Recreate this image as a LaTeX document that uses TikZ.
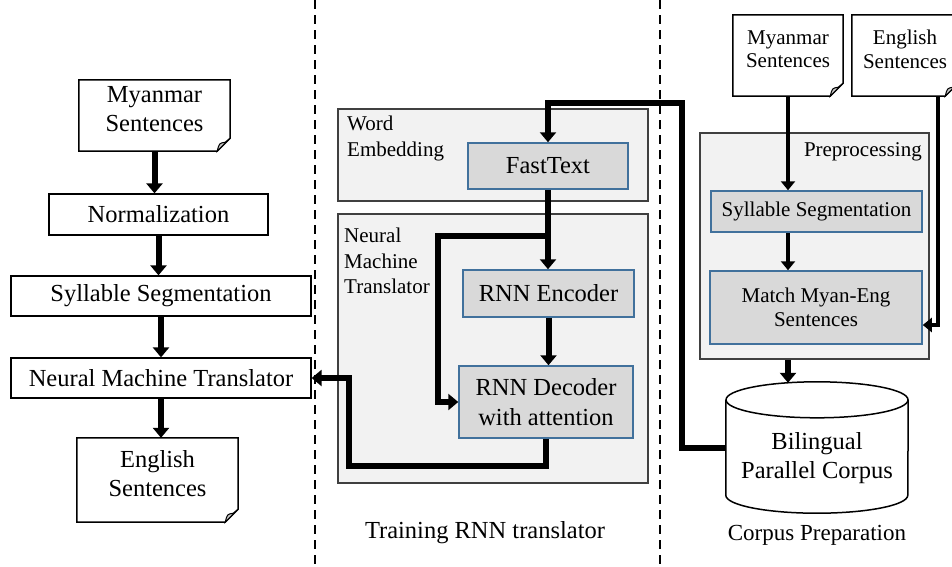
\documentclass[tikz,border=0pt]{standalone}
\usepackage{fontspec}
\setmainfont{Liberation Serif}
\usepackage{tikz}
\usetikzlibrary{arrows.meta,positioning,calc}

\definecolor{panelfill}{HTML}{F2F2F2}
\definecolor{panelline}{HTML}{404040}
\definecolor{unitfill}{HTML}{D9D9D9}
\definecolor{unitline}{HTML}{41719C}

\newcommand{\bigtxt}{\fontsize{24.5}{29}\selectfont}
\newcommand{\smalltxt}{\fontsize{21}{23.5}\selectfont}
\newcommand{\foldroom}{\rule[-13pt]{0pt}{0pt}}

\tikzstyle{flow}=[draw, line width=6pt, -{Triangle[length=10pt,width=16pt]}]
\tikzstyle{thinflow}=[draw, line width=4.5pt, -{Triangle[length=9pt,width=14pt]}]
\tikzstyle{plain}=
  [rectangle, draw, line width=1.3pt, fill=white, align=center,
   inner sep=0pt, font=\bigtxt]
\tikzstyle{panel}=
  [rectangle, draw=panelline, line width=1.5pt, fill=panelfill, inner sep=0pt]
\tikzstyle{unit}=
  [rectangle, draw=unitline, line width=1.5pt, fill=unitfill, align=center,
   inner sep=0pt, font=\bigtxt]
\tikzstyle{paper}=[rectangle, fill=white, align=center, inner sep=0pt, font=\bigtxt]
\tikzstyle{caption}=[align=left, inner sep=0pt, font=\fontsize{21}{25.5}\selectfont]
\tikzstyle{divider}=[line width=1.8pt, dash pattern=on 9pt off 6pt]

% page with folded corner round a named node
\newcommand{\paperframe}[1]{%
  \draw[line width=1.5pt] (#1.north west) -- (#1.north east)
    -- ([yshift=13pt]#1.south east) -- ([xshift=-13pt]#1.south east)
    -- (#1.south west) -- cycle;
  \draw[line width=1pt, fill=gray!45] ([xshift=-13pt]#1.south east)
    .. controls ([xshift=-11pt,yshift=8pt]#1.south east) .. ([xshift=-5pt,yshift=9pt]#1.south east)
    -- ([yshift=13pt]#1.south east) -- cycle;}

\begin{document}
\begin{tikzpicture}[x=1pt,y=-1pt]
  \useasboundingbox (0,0) rectangle (952,566);
  \clip (0,0) rectangle (952,566);

  % dividers
  \coordinate (d1top) at (315,0);
  \coordinate (d1bot) at (315,566);
  \coordinate (d2top) at (660,0);
  \coordinate (d2bot) at (660,566);
  \draw [divider] (d1top) -- (d1bot);
  \draw [divider] (d2top) -- (d2bot);

  % translating
  \node [paper, minimum width=151pt, minimum height=71pt] (mya) at (154.5,115.5) {Myanmar\\Sentences\foldroom};
  \paperframe{mya}
  \node [plain, minimum width=219pt, minimum height=41pt] (norm) at (158.5,214.5) {Normalization};
  \node [plain, minimum width=300pt, minimum height=40pt] (seg) at (161,296) {Syllable Segmentation};
  \node [plain, minimum width=300pt, minimum height=40pt] (nmt) at (161,378) {Neural Machine Translator};
  \node [paper, minimum width=161pt, minimum height=84pt] (eng) at (157.5,480) {English\\Sentences\foldroom};
  \paperframe{eng}

  \draw [flow] (mya.south) -- (mya.south |- norm.north);
  \draw [flow] (norm.south) -- (norm.south |- seg.north);
  \draw [flow] (seg.south) -- (seg.south |- nmt.north);
  \draw [flow] (nmt.south) -- (nmt.south |- eng.north);

  % training
  \node [panel, minimum width=310pt, minimum height=92pt] (we) at (493,155) {};
  \node [caption, anchor=north west] (weLab) at (347,116) {Word\\Embedding};
  \node [unit, minimum width=160pt, minimum height=46pt] (ft) at (548,166) {FastText};
  \node [panel, minimum width=310pt, minimum height=269pt] (nmtbox) at (493,348.5) {};
  \node [caption, anchor=north west] (nmtLab) at (344,228) {Neural\\Machine\\Translator};
  \node [unit, minimum width=171pt, minimum height=47pt] (enc) at (548.5,293.5) {RNN Encoder};
  \node [unit, minimum width=174pt, minimum height=72pt, font=\fontsize{24.5}{30}\selectfont] (dec) at (546,402) {RNN Decoder\\with attention};

  \coordinate (split) at (548,236);
  \coordinate (bend) at (438,236);
  \coordinate (loopa) at (349,466);
  \coordinate (ridge) at (682,103);
  \draw [flow] (ft.south) -- (ft.south |- enc.north);
  \draw [flow] (split) -- (bend) |- (dec.west);
  \draw [flow] (enc.south) -- (enc.south |- dec.north);
  \draw [flow] (dec.south) |- (loopa) |- (nmt.east);

  % corpus
  \node [paper, font=\smalltxt, minimum width=110pt, minimum height=81pt] (myr) at (788,55.5) {Myanmar\\Sentences\foldroom};
  \paperframe{myr}
  \node [paper, font=\smalltxt, minimum width=106pt, minimum height=81pt] (enr) at (905,55.5) {English\\Sentences\foldroom};
  \paperframe{enr}
  \node [panel, minimum width=229pt, minimum height=226pt] (pre) at (814.5,246) {};
  \node [caption, anchor=north east] (preLab) at (922,142) {Preprocessing};
  \node [unit, font=\smalltxt, minimum width=211pt, minimum height=41pt] (segr) at (816.5,211.5) {Syllable Segmentation};
  \node [unit, font=\smalltxt, minimum width=212pt, minimum height=73pt] (match) at (816,307.5) {Match Myan-Eng\\Sentences};
  \node [minimum width=182pt, minimum height=131pt, align=center, inner sep=0pt, font=\bigtxt] (corpus) at (817,447.5) {\rule{0pt}{38pt}Bilingual\\Parallel Corpus};
  \draw [line width=1.5pt] ([yshift=-18pt]corpus.north west) -- ([yshift=18pt]corpus.south west)
    arc [start angle=180, end angle=360, x radius=91pt, y radius=18pt]
    -- ([yshift=-18pt]corpus.north east);
  \draw [line width=1.5pt] ([yshift=-18pt]corpus.north) ellipse [x radius=91pt, y radius=18pt];

  \coordinate (drop) at (938,325);
  \draw [thinflow] (myr.south) -- (myr.south |- segr.north);
  \draw [thinflow] (myr.south |- segr.south) -- (myr.south |- match.north);
  \draw [thinflow] (drop |- enr.south) -- (drop) -- (match.east |- drop);
  \draw [flow] (myr.south |- pre.south) -- ([yshift=-1pt]myr.south |- corpus.north);
  \draw [flow] (corpus.west) -| (ridge) -| (ft.north);

  % captions
  \node [font=\bigtxt] (trainLab) at (485,533) {Training RNN translator};
  \node [font=\fontsize{23}{27}\selectfont] (prepLab) at (817,535) {Corpus Preparation};
\end{tikzpicture}
\end{document}
